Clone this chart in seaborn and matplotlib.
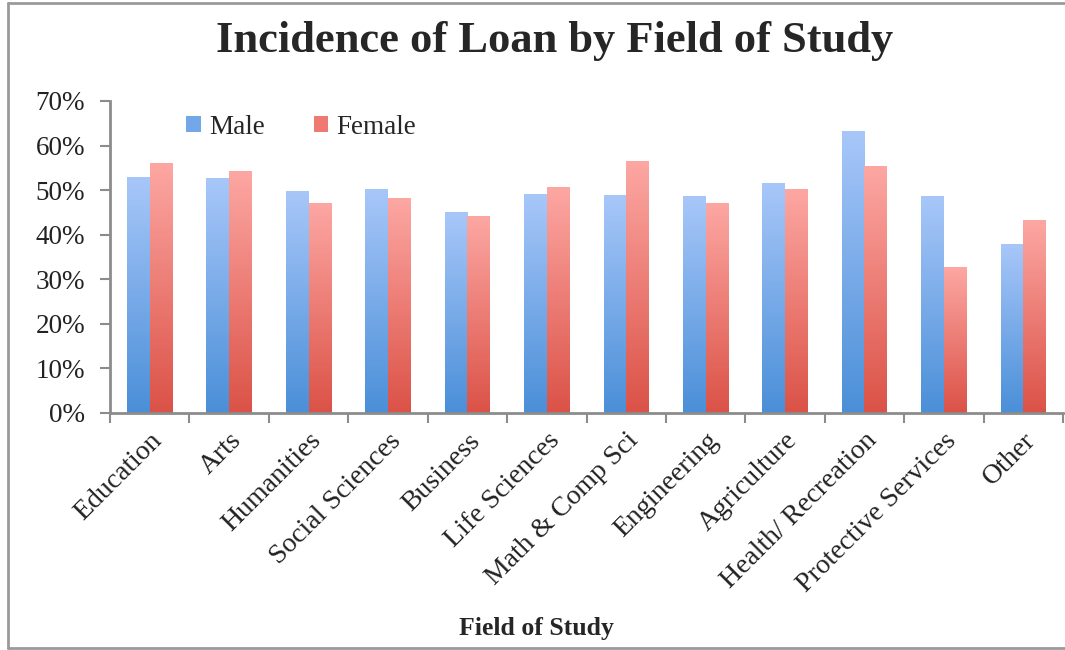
import numpy as np
import pandas as pd
import matplotlib
matplotlib.use("Agg")
import matplotlib.pyplot as plt
from matplotlib.colors import LinearSegmentedColormap
from matplotlib.patches import Rectangle
from matplotlib.lines import Line2D
from matplotlib.ticker import FixedLocator, PercentFormatter
import seaborn as sns

# Share of students with a loan, by field of study and sex (%)
fields = ["Education", "Arts", "Humanities", "Social Sciences", "Business",
          "Life Sciences", "Math & Comp Sci", "Engineering", "Agriculture",
          "Health/ Recreation", "Protective Services", "Other"]
male = [52.8, 52.5, 49.6, 50.2, 45.0, 49.1, 48.8, 48.5, 51.6, 63.1, 48.5, 37.8]
female = [55.9, 54.2, 47.0, 48.2, 44.1, 50.7, 56.5, 47.0, 50.2, 55.3, 32.6, 43.2]
series = ["Male", "Female"]
y_ticks = [0, 10, 20, 30, 40, 50, 60, 70]

df = pd.DataFrame({
    "field": fields * 2,
    "rate": male + female,
    "sex": ["Male"] * len(fields) + ["Female"] * len(fields),
})

sns.set_style("white")
plt.rcParams["font.family"] = ["Liberation Serif", "DejaVu Serif"]

# light (top) -> dark (bottom) fills for each series
grad = {
    "Male": ("#a8c7f9", "#4a8fd8"),
    "Female": ("#fda7a3", "#db5247"),
}

W, H = 1065, 650
fig = plt.figure(figsize=(W / 100, H / 100), dpi=100)
ax = fig.add_axes([110 / W, 1 - 413 / H, (1063 - 110) / W, (413 - 101) / H])

sns.barplot(data=df, x="field", y="rate", hue="sex", hue_order=series,
            palette={"Male": grad["Male"][1], "Female": grad["Female"][1]},
            width=0.57, saturation=1, legend=False, ax=ax)

# vertical gradient inside every bar
ramp = np.linspace(0, 1, 256).reshape(-1, 1)
n = len(fields)
for i, bar in enumerate(ax.patches[: 2 * n]):
    s = series[i // n]
    cmap = LinearSegmentedColormap.from_list(s, [grad[s][1], grad[s][0]])
    x0, y0 = bar.get_x(), bar.get_y()
    w, h = bar.get_width(), bar.get_height()
    ax.imshow(ramp, cmap=cmap, extent=[x0, x0 + w, y0, y0 + h],
              origin="lower", aspect="auto", zorder=2, interpolation="bilinear")
    bar.set_visible(False)
ax.set_xlim(-0.5, n - 0.5)
ax.set_ylim(0, 70)

# axes styling
axis_gray = "#8c8c8c"
for side in ["top", "right"]:
    ax.spines[side].set_visible(False)
for side in ["left", "bottom"]:
    ax.spines[side].set_color(axis_gray)
    ax.spines[side].set_linewidth(2)

ax.yaxis.set_major_locator(FixedLocator(y_ticks))
ax.yaxis.set_major_formatter(PercentFormatter(decimals=0))
ax.tick_params(axis="y", which="major", left=True, direction="out", length=7,
               width=1.5, color=axis_gray, labelsize=19.5, pad=11,
               labelcolor="#222222")

ax.set_xticks(range(n))
ax.set_xticklabels(fields, rotation=45, ha="right", va="top",
                   rotation_mode="anchor", fontsize=20, color="#222222")
ax.tick_params(axis="x", which="major", length=0, pad=11)
ax.set_xticks(np.arange(-0.5, n, 1.0), minor=True)
ax.tick_params(axis="x", which="minor", bottom=True, direction="out",
               length=7, width=1.5, color=axis_gray)
ax.set_xlabel("")
ax.set_ylabel("")

# legend with small square keys
handles = [Rectangle((0, 0), 1, 1, facecolor="#72a8e8", edgecolor="none"),
           Rectangle((0, 0), 1, 1, facecolor="#ee7a72", edgecolor="none")]
fig.legend(handles, series, loc="center left",
           bbox_to_anchor=(186 / W, 1 - 127 / H), ncol=2, frameon=False,
           fontsize=19.5, handlelength=0.55, handleheight=0.55,
           handletextpad=0.3, columnspacing=1.8, borderaxespad=0, borderpad=0)

fig.text(555 / W, 1 - 41 / H, "Incidence of Loan by Field of Study",
         ha="center", va="center", fontsize=32, fontweight="bold")
fig.text(536 / W, 1 - 628 / H, "Field of Study",
         ha="center", va="center", fontsize=18.5, fontweight="bold")

# chart frame
frame = "#9a9a9a"
fig.add_artist(Line2D([8 / W, 8 / W], [1 - 3 / H, 1 - 648 / H], color=frame,
                      lw=2, transform=fig.transFigure))
fig.add_artist(Line2D([8 / W, 1], [1 - 3 / H, 1 - 3 / H], color=frame,
                      lw=2, transform=fig.transFigure))
fig.add_artist(Line2D([8 / W, 1], [1 - 648 / H, 1 - 648 / H], color=frame,
                      lw=2, transform=fig.transFigure))

fig.savefig("out.png", dpi=100)
